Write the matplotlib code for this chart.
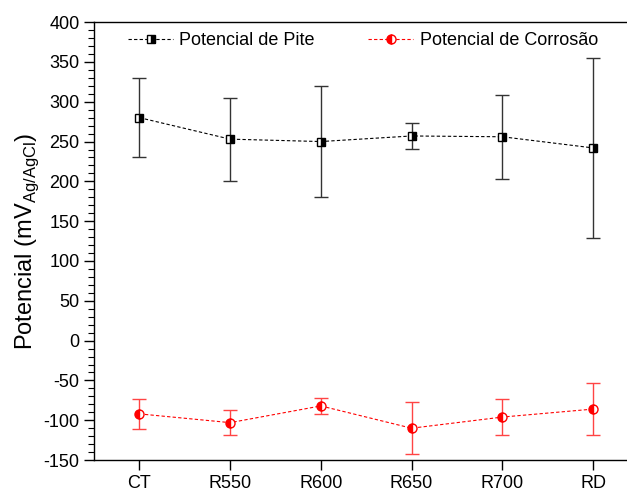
import matplotlib
matplotlib.use("Agg")
import matplotlib.pyplot as plt
from matplotlib.ticker import MultipleLocator
from matplotlib.lines import Line2D
import numpy as np

plt.rcParams['font.family'] = ['Liberation Sans', 'DejaVu Sans']
plt.rcParams['axes.unicode_minus'] = False

samples = ["CT", "R550", "R600", "R650", "R700", "RD"]
pite = [280, 253, 250, 257, 256, 242]
pite_err = [50, 52, 70, 16, 53, 113]
corrosao = [-92, -103, -82, -110, -96, -86]
corrosao_err = [19, 16, 10, 33, 23, 33]

x = np.arange(len(samples))

fig = plt.figure(figsize=(6.27, 4.91), dpi=100)
ax = fig.add_axes([0.150, 0.063, 0.85, 0.892])

pite_style = dict(color='black', linestyle=(0, (3, 2)), linewidth=0.8,
                  marker='s', markersize=5.5, fillstyle='right',
                  markerfacecolor='black', markerfacecoloralt='white',
                  markeredgecolor='black', markeredgewidth=1.0)
corr_style = dict(color='red', linestyle=(0, (3, 2)), linewidth=0.8,
                  marker='o', markersize=6.5, fillstyle='left',
                  markerfacecolor='red', markerfacecoloralt='white',
                  markeredgecolor='red', markeredgewidth=1.0)

ax.errorbar(x, pite, yerr=pite_err, ecolor='#333333', elinewidth=1.0,
            capsize=5, capthick=1.0, **pite_style)
ax.errorbar(x, corrosao, yerr=corrosao_err, ecolor='#ff4444', elinewidth=1.0,
            capsize=5, capthick=1.0, **corr_style)

ax.set_xlim(-0.5, 5.374)
ax.set_ylim(-150, 400)
ax.set_xticks(x)
ax.set_xticklabels(samples)
ax.yaxis.set_major_locator(MultipleLocator(50))
ax.yaxis.set_minor_locator(MultipleLocator(10))
ax.tick_params(axis='both', which='major', direction='out', length=7,
               width=1.0, labelsize=13)
ax.tick_params(axis='y', which='minor', direction='out', length=4, width=0.8)
ax.spines['right'].set_visible(False)
for s in ['left', 'bottom', 'top']:
    ax.spines[s].set_linewidth(1.0)

ax.set_ylabel(r'Potencial (mV$_{\mathregular{Ag/AgCl}}$)', fontsize=17, labelpad=2)

handles = [Line2D([], [], **pite_style), Line2D([], [], **corr_style)]
fig.legend(handles, ['Potencial de Pite', 'Potencial de Corrosão'],
           loc='upper left', bbox_to_anchor=(128 / 627, 1 - 32 / 491),
           ncol=2, frameon=False, fontsize=13, handlelength=2.5,
           columnspacing=2.95, handletextpad=0.35, borderpad=0,
           borderaxespad=0)

fig.savefig('out.png', dpi=100)
